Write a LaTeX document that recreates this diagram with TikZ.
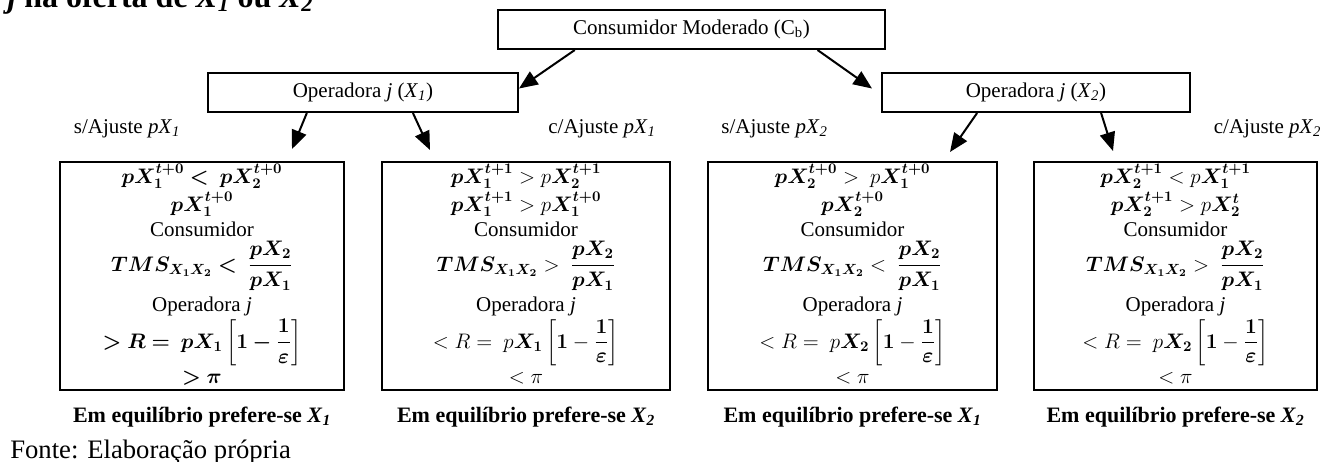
\RequirePackage{fix-cm}
\documentclass[tikz,border=0pt]{standalone}
\usepackage{amsmath}
\usepackage{bm}
\usepackage{fontspec}
\setmainfont{Liberation Serif}
\usetikzlibrary{arrows.meta,calc}
\newcommand\fsz{\fontsize{15.75}{18}\selectfont}
\newcommand\XsubI[1]{\textit{X}\textsubscript{\textit{#1}}}
\newcommand\fillbox[8]{%
  \node[ln] (#1-1) at ($(#1.north)+(0,22)$) {#2};
  \node[ln] (#1-2) at ($(#1.north)+(0,50)$) {#3};
  \node[ln] (#1-3) at ($(#1.north)+(0,75)$) {Consumidor};
  \node[ln] (#1-4) at ($(#1.north)+(0,110)$) {#4};
  \node[ln] (#1-5) at ($(#1.north)+(0,150)$) {Operadora \textit{j}};
  \node[ln] (#1-6) at ($(#1.north)+(0,187)$) {#5};
  \node[ln] (#1-7) at ($(#1.north)+(0,222)$) {#6};
  \node[lab] (#1-s) at ($(#1.north)+(#7,-32)$) {#8};
}
\tikzset{
  bx/.style={draw, line width=1.5pt, inner sep=0pt, font=\fsz},
  arr/.style={line width=1.5pt, -{Triangle[length=14pt,width=11.5pt]}},
  ln/.style={anchor=base, inner sep=0pt, font=\fsz},
  lab/.style={inner sep=0pt, font=\fsz},
  eq/.style={inner sep=0pt, font=\fontsize{16.5}{19}\selectfont\bfseries},
}
\begin{document}
\begin{tikzpicture}[x=0.75pt,y=-0.75pt]
\useasboundingbox (0,0) rectangle (1322,461);
\clip (0,0) rectangle (1322,461);
\node[anchor=base west, inner sep=0pt, font=\fontsize{24}{28}\selectfont\bfseries] (head) at (7,7)
  {\textit{j} na oferta de \XsubI{1} ou \XsubI{2}};
% top boxes
\node[bx, minimum width=387*0.75pt, minimum height=39*0.75pt] (top) at (691.5,29.5) {Consumidor Moderado (C\textsubscript{b})};
\node[bx, minimum width=310*0.75pt, minimum height=39*0.75pt] (x1) at (363,92.5) {Operadora \textit{j} (\XsubI{1})};
\node[bx, minimum width=308*0.75pt, minimum height=39*0.75pt] (x2) at (1036,92.5) {Operadora \textit{j} (\XsubI{2})};
% bottom boxes
\node[bx, minimum width=284*0.75pt, minimum height=228*0.75pt] (b1) at (202,276) {};
\node[bx, minimum width=288*0.75pt, minimum height=228*0.75pt] (b2) at (526,276) {};
\node[bx, minimum width=289*0.75pt, minimum height=228*0.75pt] (b3) at (852.5,276) {};
\node[bx, minimum width=283*0.75pt, minimum height=228*0.75pt] (b4) at (1175.5,276) {};
\fillbox{b1}{$\bm{pX_1^{t+0} <\ pX_2^{t+0}}$}{$\bm{pX_1^{t+0}}$}%
  {$\bm{TMS_{X_1X_2} <\ \dfrac{pX_2}{pX_1}}$}%
  {$\bm{>R =\ pX_1\left[1-\dfrac{1}{\varepsilon}\right]}$}{$\bm{>\pi}$}{-75}{s/Ajuste \textit{p}\XsubI{1}}
\fillbox{b2}{$\bm{pX_1^{t+1}} > p\bm{X_2^{t+1}}$}{$\bm{pX_1^{t+1}} > p\bm{X_1^{t+0}}$}%
  {$\bm{TMS_{X_1X_2}} >\ \bm{\dfrac{pX_2}{pX_1}}$}%
  {$<R =\ p\bm{X_1}\left[\bm{1}-\dfrac{\bm{1}}{\bm{\varepsilon}}\right]$}{$<\pi$}{76}{c/Ajuste \textit{p}\XsubI{1}}
\fillbox{b3}{$\bm{pX_2^{t+0}} >\ p\bm{X_1^{t+0}}$}{$\bm{pX_2^{t+0}}$}%
  {$\bm{TMS_{X_1X_2}} <\ \bm{\dfrac{pX_2}{pX_1}}$}%
  {$<R =\ p\bm{X_2}\left[\bm{1}-\dfrac{\bm{1}}{\bm{\varepsilon}}\right]$}{$<\pi$}{-78}{s/Ajuste \textit{p}\XsubI{2}}
\fillbox{b4}{$\bm{pX_2^{t+1}} < p\bm{X_1^{t+1}}$}{$\bm{pX_2^{t+1}} > p\bm{X_2^{t}}$}%
  {$\bm{TMS_{X_1X_2}} >\ \bm{\dfrac{pX_2}{pX_1}}$}%
  {$<R =\ p\bm{X_2}\left[\bm{1}-\dfrac{\bm{1}}{\bm{\varepsilon}}\right]$}{$<\pi$}{92}{c/Ajuste \textit{p}\XsubI{2}}
% arrows
\draw[arr] ($(top.south west)!0.2!(top.south east)$) -- ($(x1.east)+(0,-4)$);
\draw[arr] ($(top.south west)!0.824!(top.south east)$) -- ($(x2.west)+(-9,-4)$);
\draw[arr] ($(x1.south west)!0.32!(x1.south east)$) -- ($(b1.north)+(90,-12)$);
\draw[arr] ($(x1.south west)!0.66!(x1.south east)$) -- ($(b2.north)+(-96,-11)$);
\draw[arr] ($(x2.south west)!0.31!(x2.south east)$) -- ($(b3.north)+(97.5,-9)$);
\draw[arr] ($(x2.south west)!0.71!(x2.south east)$) -- ($(b4.north)+(-62.5,-10)$);
% bottom labels
\node[eq] (e1) at ($(b1.south)+(0,26)$) {Em equilíbrio prefere-se \XsubI{1}};
\node[eq] (e2) at ($(b2.south)+(0,26)$) {Em equilíbrio prefere-se \XsubI{2}};
\node[eq] (e3) at ($(b3.south)+(0,26)$) {Em equilíbrio prefere-se \XsubI{1}};
\node[eq] (e4) at ($(b4.south)+(0,26)$) {Em equilíbrio prefere-se \XsubI{2}};
\node[anchor=base west, inner sep=0pt, font=\fontsize{20}{24}\selectfont] (fonte) at (10,458) {Fonte: Elaboração própria};
\end{tikzpicture}
\end{document}
